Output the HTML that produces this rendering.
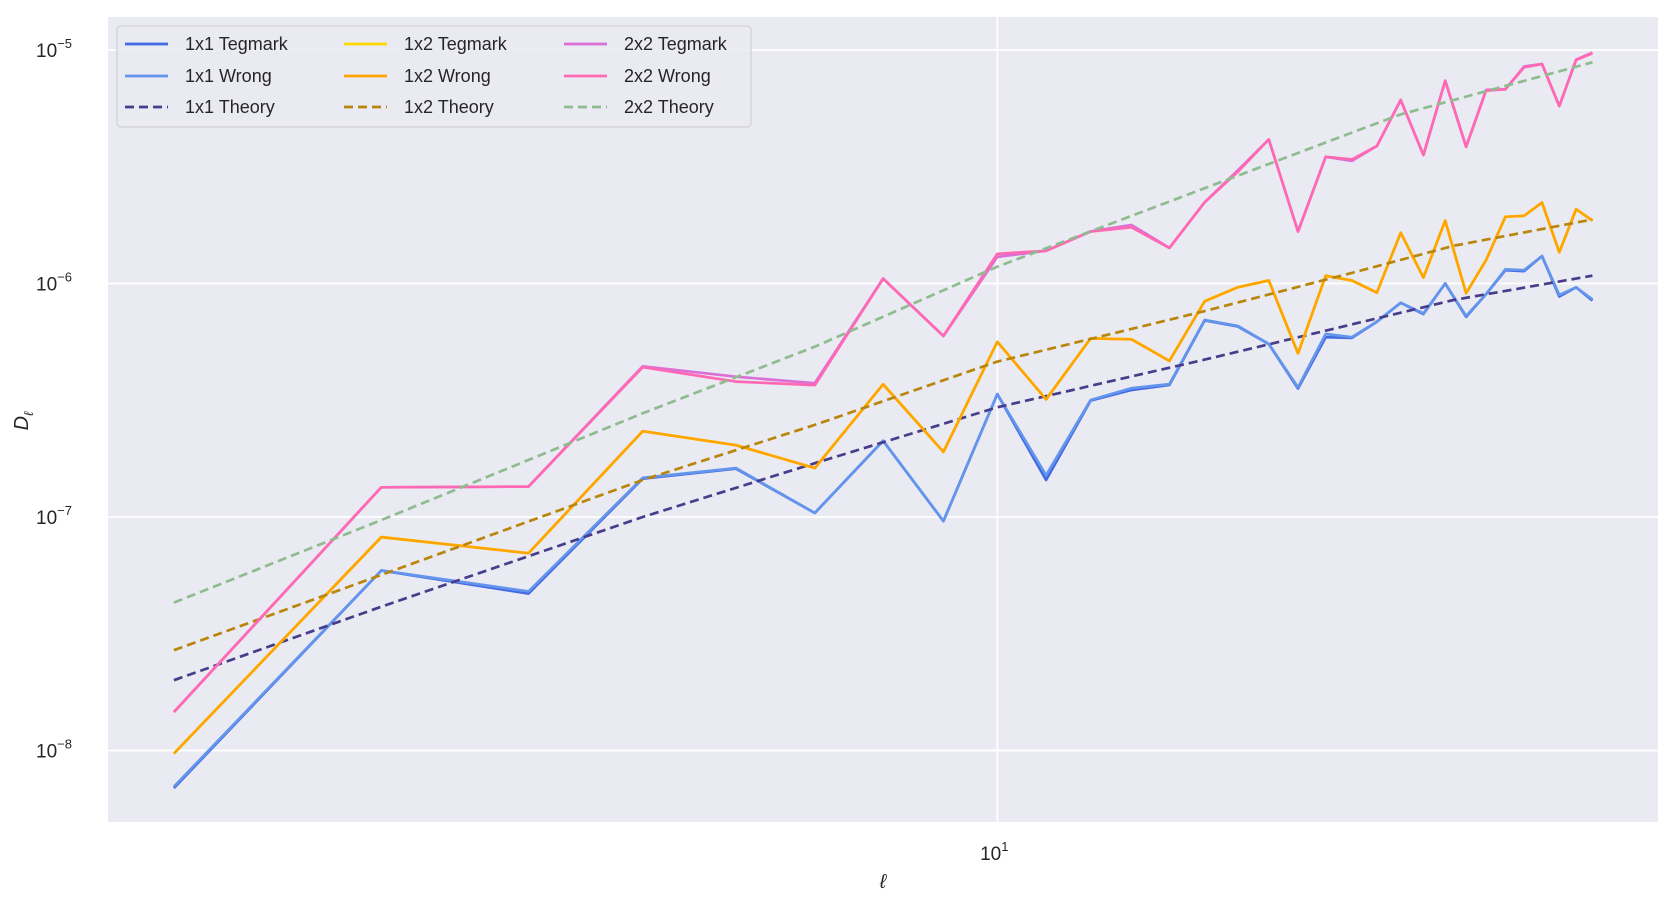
<!DOCTYPE html>
<html><head><meta charset="utf-8"><style>
html,body{margin:0;padding:0;background:#fff;}
svg text{font-family:"Liberation Sans",sans-serif;fill:#262626;}
</style></head><body>
<svg id="chart" width="1670" height="911" viewBox="0 0 1670 911" xmlns="http://www.w3.org/2000/svg">
<rect x="108" y="17" width="1550" height="805" fill="#eaeaf2"/>
<g id="grid"></g>
<g id="series"></g>
<g id="axes"></g>
<text x="883" y="888" font-size="20" font-style="italic" text-anchor="middle">ℓ</text>
<text transform="translate(28,421) rotate(-90)" font-size="20" font-style="italic" text-anchor="middle">D<tspan font-size="13" dy="5">ℓ</tspan></text>
<g id="legend"></g>
</svg>
<script>
const ells = [2,3,4,5,6,7,8,9,10,11,12,13,14,15,16,17,18,19,20,21,22,23,24,25,26,27,28,29,30,31,32];
const blueWrong = [7.0e-9,5.9e-8,4.8e-8,1.47e-7,1.62e-7,1.04e-7,2.12e-7,9.6e-8,3.36e-7,1.51e-7,3.17e-7,3.56e-7,3.71e-7,6.98e-7,6.58e-7,5.51e-7,3.59e-7,6.08e-7,5.89e-7,6.86e-7,8.27e-7,7.45e-7,1.00e-6,7.26e-7,9.01e-7,1.15e-6,1.14e-6,1.31e-6,8.93e-7,9.63e-7,8.55e-7];
const blueTeg = [6.9e-9,5.9e-8,4.7e-8,1.46e-7,1.61e-7,1.04e-7,2.12e-7,9.6e-8,3.36e-7,1.44e-7,3.15e-7,3.50e-7,3.68e-7,6.95e-7,6.55e-7,5.50e-7,3.55e-7,5.89e-7,5.85e-7,6.86e-7,8.27e-7,7.40e-7,1.00e-6,7.20e-7,9.01e-7,1.14e-6,1.13e-6,1.31e-6,8.80e-7,9.63e-7,8.45e-7];
const orangeWrong = [9.7e-9,8.2e-8,7.0e-8,2.33e-7,2.03e-7,1.62e-7,3.70e-7,1.90e-7,5.63e-7,3.19e-7,5.82e-7,5.77e-7,4.66e-7,8.4e-7,9.63e-7,1.03e-6,5.02e-7,1.08e-6,1.03e-6,9.14e-7,1.65e-6,1.06e-6,1.86e-6,9.08e-7,1.26e-6,1.93e-6,1.95e-6,2.22e-6,1.36e-6,2.08e-6,1.86e-6];
const yellowTeg = [9.7e-9,8.2e-8,7.0e-8,2.33e-7,2.03e-7,1.62e-7,3.70e-7,1.90e-7,5.63e-7,3.19e-7,5.82e-7,5.77e-7,4.66e-7,8.4e-7,9.63e-7,1.03e-6,5.02e-7,1.08e-6,1.03e-6,9.14e-7,1.65e-6,1.06e-6,1.86e-6,9.08e-7,1.26e-6,1.93e-6,1.95e-6,2.22e-6,1.36e-6,2.08e-6,1.86e-6];
const pinkWrong = [1.46e-8,1.34e-7,1.35e-7,4.38e-7,3.80e-7,3.67e-7,1.05e-6,5.96e-7,1.34e-6,1.38e-6,1.67e-6,1.74e-6,1.42e-6,2.23e-6,3.01e-6,4.14e-6,1.67e-6,3.49e-6,3.40e-6,3.88e-6,6.11e-6,3.55e-6,7.39e-6,3.85e-6,6.70e-6,6.79e-6,8.43e-6,8.71e-6,5.75e-6,9.06e-6,9.68e-6];
const pinkTeg = [1.46e-8,1.34e-7,1.35e-7,4.42e-7,3.99e-7,3.74e-7,1.05e-6,5.96e-7,1.30e-6,1.38e-6,1.67e-6,1.78e-6,1.42e-6,2.23e-6,3.05e-6,4.14e-6,1.67e-6,3.49e-6,3.35e-6,3.88e-6,6.11e-6,3.55e-6,7.39e-6,3.85e-6,6.75e-6,6.79e-6,8.50e-6,8.71e-6,5.75e-6,9.10e-6,9.75e-6];
const theoryEll = [2,3,5,7,10,15,20,24.4,32];
const theory11 = [2.00e-8,4.13e-8,1.00e-7,1.70e-7,2.95e-7,4.72e-7,6.68e-7,8.5e-7,1.08e-6];
const theory12 = [2.69e-8,5.65e-8,1.44e-7,2.48e-7,4.63e-7,7.62e-7,1.11e-6,1.45e-6,1.88e-6];
const theory22Ell = [2,3,5,7,10,15,20,22,32];
const theory22 = [4.30e-8,9.7e-8,2.78e-7,5.36e-7,1.18e-6,2.56e-6,4.43e-6,5.3e-6,8.86e-6];
const yTickVals = [1e-5,1e-6,1e-7,1e-8];
const yTickExp = ["−5","−6","−7","−8"];
const xTickVals = [10];
const xTickExp = ["1"];

const NS="http://www.w3.org/2000/svg";
const X0=997.3, XD=1178, Y0=50, YD=233.5;
function xs(l){return X0+XD*Math.log10(l/10);}
function ys(v){return Y0-(Math.log10(v)+5)*YD;}
function mk(tag,attrs,parent){const e=document.createElementNS(NS,tag);for(const k in attrs)e.setAttribute(k,attrs[k]);parent.appendChild(e);return e;}

const grid=document.getElementById('grid'), axes=document.getElementById('axes');
yTickVals.forEach((v,i)=>{
  const g=mk('line',{x1:108,x2:1658,y1:ys(v),y2:ys(v),stroke:'#fff','stroke-width':1.8},grid);
  
  
  const t=mk('text',{x:72,y:ys(v)+7,'font-size':19,'text-anchor':'end'},axes);
  
  
  t.textContent='10';
  const s=mk('tspan',{'font-size':13,dy:-9},t);
  s.textContent=yTickExp[i];
});
xTickVals.forEach((v,i)=>{
  const g=mk('line',{x1:xs(v),x2:xs(v),y1:17,y2:822,stroke:'#fff','stroke-width':1.8},grid);
  
  
  const t=mk('text',{x:xs(v)-3,y:860,'font-size':19,'text-anchor':'middle'},axes);
  
  
  t.textContent='10';
  const s=mk('tspan',{'font-size':13,dy:-9},t);
  s.textContent=xTickExp[i];
});

const series=[
 {name:'1x1 Tegmark',x:ells,y:blueTeg,c:'#4169e1',d:null,id:'series-1x1-tegmark'},
 {name:'1x1 Wrong',x:ells,y:blueWrong,c:'#6495ed',d:null,id:'series-1x1-wrong'},
 {name:'1x1 Theory',x:theoryEll,y:theory11,c:'#483d8b',d:'9,5',id:'series-1x1-theory'},
 {name:'1x2 Tegmark',x:ells,y:yellowTeg,c:'#ffd700',d:null,id:'series-1x2-tegmark'},
 {name:'1x2 Wrong',x:ells,y:orangeWrong,c:'#ffa500',d:null,id:'series-1x2-wrong'},
 {name:'1x2 Theory',x:theoryEll,y:theory12,c:'#b8860b',d:'9,5',id:'series-1x2-theory'},
 {name:'2x2 Tegmark',x:ells,y:pinkTeg,c:'#da70d6',d:null,id:'series-2x2-tegmark'},
 {name:'2x2 Wrong',x:ells,y:pinkWrong,c:'#ff69b4',d:null,id:'series-2x2-wrong'},
 {name:'2x2 Theory',x:theory22Ell,y:theory22,c:'#8fbc8f',d:'9,5',id:'series-2x2-theory'}
];
const sg=document.getElementById('series');
series.forEach(s=>{
  const pts=s.x.map((l,i)=>xs(l).toFixed(1)+','+ys(s.y[i]).toFixed(1)).join(' ');
  const a={points:pts,fill:'none',stroke:s.c,'stroke-width':2.7,'stroke-linejoin':'round'};
  if(s.d)a['stroke-dasharray']=s.d;
  const p=mk('polyline',a,sg);
  
  
});

const lg=document.getElementById('legend');
const box=mk('rect',{x:117,y:26,width:634,height:101,rx:4,fill:'#eaeaf2','fill-opacity':0.85,stroke:'#d0d0d6','stroke-width':1.2},lg);


const colX=[125,344,564], rowY=[44,76,107];
series.forEach((s,i)=>{
  const cx=colX[Math.floor(i/3)], cy=rowY[i%3];
  const a={x1:cx,x2:cx+43,y1:cy,y2:cy,stroke:s.c,'stroke-width':2.7};
  if(s.d)a['stroke-dasharray']='9,5';
  const l=mk('line',a,lg);
  
  
  const t=mk('text',{x:cx+60,y:cy+6,'font-size':18},lg);
  
  
  t.textContent=s.name;
});
</script>
</body></html>
